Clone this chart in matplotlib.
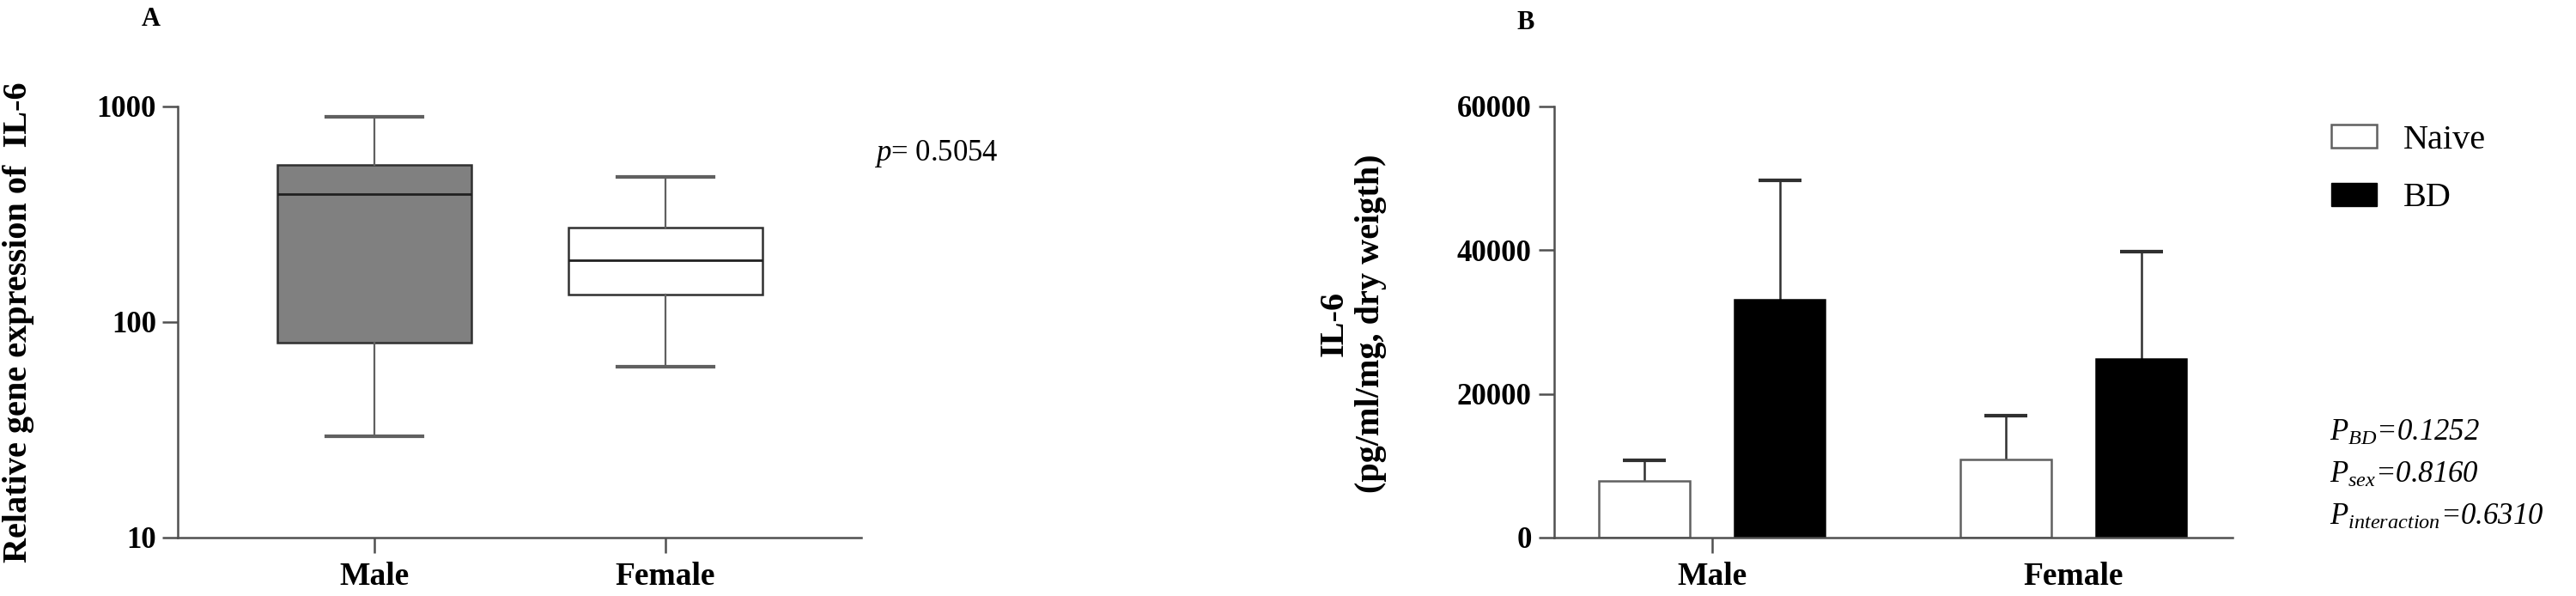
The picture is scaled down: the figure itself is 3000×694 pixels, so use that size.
import numpy as np
import matplotlib
matplotlib.use('Agg')
import matplotlib.pyplot as plt
from matplotlib.patches import Patch

plt.rcParams['font.family'] = ['Liberation Serif', 'DejaVu Serif']
plt.rcParams['mathtext.fontset'] = 'custom'
plt.rcParams['mathtext.rm'] = 'Liberation Serif'
plt.rcParams['mathtext.it'] = 'Liberation Serif:italic'
plt.rcParams['mathtext.bf'] = 'Liberation Serif:bold'

# Panel A - box plot (log scale)
groups = ['Male', 'Female']
whis_lo = [29.5, 62]
q1 = [80, 134]
medians = [393, 194]
q3 = [536, 274]
whis_hi = [895, 471]
box_colors = ['#808080', 'white']
p_text = r'$p$= 0.5054'

# Panel B - bar chart with upper SD
conditions = ['Naive', 'BD']
naive_mean = [7920, 10920]
naive_err = [2880, 6000]
bd_mean = [33120, 24840]
bd_err = [16560, 15000]
p_values = [r'$P_{BD}$=0.1252', r'$P_{sex}$=0.8160', r'$P_{interaction}$=0.6310']

W, H = 3000, 694
fig = plt.figure(figsize=(W / 100, H / 100), dpi=100)

axA = fig.add_axes([207 / W, 1 - 626 / H, (1003 - 207) / W, (626 - 124) / H])
axB = fig.add_axes([1810 / W, 1 - 626 / H, (2600 - 1810) / W, (626 - 124) / H])

spine_col = '#505050'
for ax in (axA, axB):
    for s in ('top', 'right'):
        ax.spines[s].set_visible(False)
    for s in ('left', 'bottom'):
        ax.spines[s].set_color(spine_col)
        ax.spines[s].set_linewidth(1.8)
    ax.tick_params(axis='both', which='major', length=13, width=1.8, color=spine_col)
    ax.tick_params(axis='x', pad=7)

# ---- panel A
stats = []
for i, g in enumerate(groups):
    stats.append(dict(label=g, whislo=whis_lo[i], q1=q1[i], med=medians[i],
                      q3=q3[i], whishi=whis_hi[i], fliers=[]))
bp = axA.bxp(stats, positions=[0, 1], widths=0.667, capwidths=0.333,
             patch_artist=True, showfliers=False,
             medianprops=dict(color='#202020', linewidth=2),
             whiskerprops=dict(color='#606060', linewidth=1.6),
             capprops=dict(color='#606060', linewidth=3),
             boxprops=dict(linewidth=1.8))
for patch, c in zip(bp['boxes'], box_colors):
    patch.set_facecolor(c)
    patch.set_edgecolor('#303030')

axA.set_yscale('log')
axA.set_ylim(10, 1000)
axA.set_xlim(-0.676, 1.673)
axA.yaxis.set_minor_locator(matplotlib.ticker.NullLocator())
axA.set_yticks([10, 100, 1000], ['10', '100', '1000'], fontsize=25, fontweight='bold')
axA.set_xticks([0, 1], groups, fontsize=27, fontweight='bold')
axA.tick_params(axis='y', pad=5)

fig.text(22 / W, 1 - 375 / H, 'Relative gene expression of  IL-6', rotation=90,
         ha='center', va='center', fontsize=29, fontweight='bold')
fig.text(176 / W, 1 - 22 / H, 'A', ha='center', va='center', fontsize=22, fontweight='bold')
fig.text(1018 / W, 1 - 179 / H, p_text, ha='left', va='center', fontsize=25)

# ---- panel B
x = np.arange(len(groups))
bw = 0.25
off = 0.1875
axB.bar(x - off, naive_mean, bw, color='white', edgecolor='#606060', linewidth=1.8,
        label=conditions[0], zorder=2)
axB.bar(x + off, bd_mean, bw, color='black', edgecolor='black', linewidth=1.8,
        label=conditions[1], zorder=2)
for xs, m, e in ((x - off, naive_mean, naive_err), (x + off, bd_mean, bd_err)):
    eb = axB.errorbar(xs, m, yerr=[np.zeros(len(m)), e], fmt='none',
                      ecolor='#303030', elinewidth=1.8, capsize=18, capthick=3, zorder=1)
    eb[1][0].set_visible(False)  # drop the cap at the bar top (lower side)

axB.set_xlim(-0.437, 1.44)
axB.set_ylim(0, 60000)
axB.set_yticks([0, 20000, 40000, 60000], ['0', '20000', '40000', '60000'],
               fontsize=25, fontweight='bold')
axB.set_xticks(x, groups, fontsize=27, fontweight='bold')
axB.tick_params(axis='y', pad=6)
axB.xaxis.get_major_ticks()[1].tick1line.set_visible(False)

fig.text(1575 / W, 1 - 377 / H, 'IL-6\n(pg/ml/mg, dry weigth)', rotation=90,
         ha='center', va='center', multialignment='center', fontsize=29,
         fontweight='bold', linespacing=1.2)
fig.text(1777 / W, 1 - 27 / H, 'B', ha='center', va='center', fontsize=22, fontweight='bold')

handles = [Patch(facecolor='white', edgecolor='#606060', linewidth=1.8),
           Patch(facecolor='black', edgecolor='black')]
fig.legend(handles, conditions, loc='upper left', bbox_to_anchor=(2715 / W, 1 - 145 / H),
           frameon=False, fontsize=29, handlelength=1.32, handleheight=0.65,
           handletextpad=0.75, labelspacing=0.75, borderpad=0, borderaxespad=0)

for i, t in enumerate(p_values):
    fig.text(2713 / W, 1 - (504 + 49 * i) / H, t, ha='left', va='center',
             fontsize=25, style='italic')

fig.savefig('out.png', dpi=100)
